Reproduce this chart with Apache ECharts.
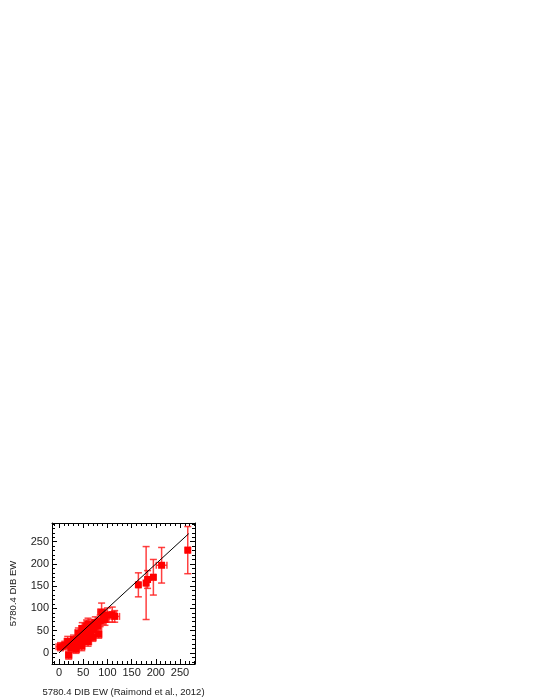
<!DOCTYPE html>
<html>
<head>
<meta charset="utf-8">
<script src="https://cdn.jsdelivr.net/npm/echarts@6/dist/echarts.min.js"></script>
<style>
  html, body { margin: 0; padding: 0; background: #fff; }
  #chart { width: 540px; height: 699px; }
</style>
</head>
<body>
<div id="chart"></div>
<script>
// DIB 5780.4 EW: this work vs Raimond et al. (2012)
var xVals = [3, 12, 20, 18, 25, 28, 33, 35, 38, 42, 45, 47, 50, 52, 55, 57, 58, 60, 62, 65,
             67, 70, 72, 75, 80, 82, 85, 88, 92, 95, 100, 110, 115, 40, 48, 30, 60,
             164, 180, 183, 195, 212, 266];
var yVals = [14, 17, -5, 26, 12, 22, 18, 8, 28, 20, 35, 15, 42, 30, 50, 60, 38, 25, 55, 45,
             62, 35, 52, 68, 60, 42, 72, 92, 80, 75, 85, 86, 82, 45, 55, 30, 65,
             153, 157, 165, 170, 197, 231];
var xErr = [9, 7, 6, 7, 6, 7, 6, 7, 6, 7, 8, 6, 7, 6, 8, 7, 6, 7, 8, 7,
            7, 6, 8, 7, 8, 6, 7, 8, 7, 8, 9, 9, 10, 7, 7, 6, 8,
            3, 3, 3, 4, 11, 4];
var yErr = [9, 9, 9, 11, 9, 10, 9, 9, 11, 10, 13, 10, 13, 11, 15, 14, 11, 10, 13, 12,
            13, 9, 13, 13, 13, 9, 13, 20, 15, 13, 16, 17, 13, 11, 13, 10, 13,
            27, 82, 20, 40, 40, 53];

// one-to-one line
var lineX = [0, 268];
var lineY = [0, 268];

// tick labels
var majorTicks = [0, 50, 100, 150, 200, 250];

var xMin = -14.5, xMax = 281;
var yMin = -25, yMax = 292;

function minorTicks(lo, hi) {
    var out = [];
    for (var v = Math.ceil(lo / 10) * 10; v <= hi; v += 10) {
        if (v % 50 !== 0) out.push(v);
    }
    return out;
}

var font = 'Liberation Sans';
var lineStyle = { color: '#000', width: 1 };

// builds one axis of the frame, ticks pointing in
function frameAxis(pos, min, max, ticks, len, showLine, showLabel, extra) {
    var ax = {
        type: 'value',
        position: pos,
        min: min,
        max: max,
        splitLine: { show: false },
        axisLine: { show: showLine, onZero: false, lineStyle: lineStyle },
        axisTick: { show: true, inside: true, length: len, customValues: ticks, lineStyle: lineStyle },
        axisLabel: { show: showLabel, customValues: ticks, color: '#222', fontFamily: font, fontSize: 11, margin: 3 }
    };
    for (var k in extra) ax[k] = extra[k];
    return ax;
}

var errData = xVals.map(function(x, i) { return [x, yVals[i], xErr[i], yErr[i]]; });
var ptData = xVals.map(function(x, i) { return [x, yVals[i]]; });
var lineData = lineX.map(function(x, i) { return [x, lineY[i]]; });

var chart = echarts.init(document.getElementById('chart'));

var option = {
    backgroundColor: '#fff',
    animation: false,
    grid: { left: 52, right: 345, top: 523, bottom: 35 },
    xAxis: [
        frameAxis('bottom', xMin, xMax, majorTicks, 5, true, true, {
            name: '5780.4 DIB EW (Raimond et al., 2012)',
            nameLocation: 'middle',
            nameGap: 23,
            nameTextStyle: { color: '#222', fontFamily: font, fontSize: 9.5 }
        }),
        frameAxis('bottom', xMin, xMax, minorTicks(xMin, xMax), 3, false, false, {}),
        frameAxis('top', xMin, xMax, majorTicks, 5, true, false, {}),
        frameAxis('top', xMin, xMax, minorTicks(xMin, xMax), 3, false, false, {})
    ],
    yAxis: [
        frameAxis('left', yMin, yMax, majorTicks, 5, true, true, {
            name: '5780.4 DIB EW',
            nameLocation: 'middle',
            nameGap: 34,
            nameRotate: 90,
            nameTextStyle: { color: '#222', fontFamily: font, fontSize: 9.5 }
        }),
        frameAxis('left', yMin, yMax, minorTicks(yMin, yMax), 3, false, false, {}),
        frameAxis('right', yMin, yMax, majorTicks, 5, true, false, {}),
        frameAxis('right', yMin, yMax, minorTicks(yMin, yMax), 3, false, false, {})
    ],
    series: [
        {
            // error bars with caps
            type: 'custom',
            z: 1,
            data: errData,
            encode: { x: 0, y: 1 },
            renderItem: function(params, api) {
                var x = api.value(0), y = api.value(1);
                var xe = api.value(2), ye = api.value(3);
                var l = api.coord([x - xe, y]), r = api.coord([x + xe, y]);
                var t = api.coord([x, y + ye]), b = api.coord([x, y - ye]);
                var cap = 3.5;
                var st = { stroke: 'rgba(255,30,30,0.85)', lineWidth: 1.5 };
                var seg = function(x1, y1, x2, y2) {
                    return { type: 'line', shape: { x1: x1, y1: y1, x2: x2, y2: y2 }, style: st };
                };
                return {
                    type: 'group',
                    children: [
                        seg(l[0], l[1], r[0], r[1]),
                        seg(l[0], l[1] - cap, l[0], l[1] + cap),
                        seg(r[0], r[1] - cap, r[0], r[1] + cap),
                        seg(t[0], t[1], b[0], b[1]),
                        seg(t[0] - cap, t[1], t[0] + cap, t[1]),
                        seg(b[0] - cap, b[1], b[0] + cap, b[1])
                    ]
                };
            }
        },
        {
            type: 'scatter',
            z: 2,
            symbol: 'rect',
            symbolSize: 7,
            itemStyle: { color: '#ff0000', opacity: 1 },
            data: ptData
        },
        {
            type: 'line',
            z: 3,
            symbol: 'none',
            lineStyle: { color: '#000', width: 1 },
            data: lineData
        }
    ]
};

chart.setOption(option);
</script>
</body>
</html>
